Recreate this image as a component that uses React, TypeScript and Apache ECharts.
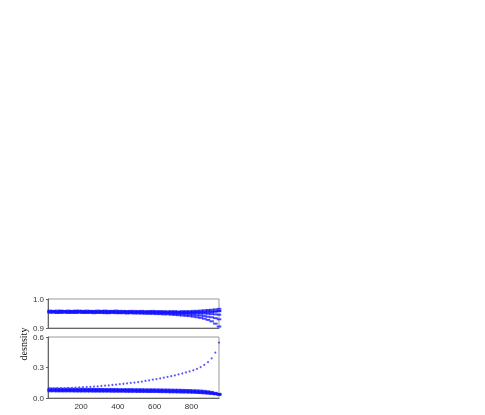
import React, { useEffect, useRef } from "react";
import * as echarts from "echarts";

const X = [30, 50, 70, 90, 110, 130, 150, 170, 190, 210, 230, 250, 270, 290, 310, 330, 350, 370, 390, 410, 430, 450, 470, 490, 510, 530, 550, 570, 590, 610, 630, 650, 670, 690, 710, 730, 750, 770, 790, 810, 830, 850, 870, 890, 910, 930, 950];

const topA = [0.960, 0.959, 0.960, 0.960, 0.959, 0.960, 0.959, 0.960, 0.960, 0.959, 0.960, 0.959, 0.959, 0.960, 0.959, 0.960, 0.959, 0.959, 0.960, 0.959, 0.959, 0.958, 0.959, 0.959, 0.958, 0.959, 0.958, 0.958, 0.959, 0.958, 0.958, 0.958, 0.957, 0.958, 0.958, 0.957, 0.958, 0.958, 0.958, 0.959, 0.959, 0.960, 0.961, 0.962, 0.963, 0.964, 0.966];
const topB = [0.958, 0.958, 0.957, 0.958, 0.958, 0.957, 0.958, 0.958, 0.957, 0.958, 0.957, 0.958, 0.957, 0.957, 0.958, 0.957, 0.957, 0.958, 0.957, 0.957, 0.956, 0.957, 0.957, 0.956, 0.957, 0.956, 0.956, 0.957, 0.956, 0.956, 0.956, 0.955, 0.956, 0.955, 0.955, 0.955, 0.955, 0.955, 0.955, 0.955, 0.956, 0.956, 0.956, 0.957, 0.957, 0.958, 0.959];
const topC = [0.956, 0.956, 0.955, 0.956, 0.955, 0.956, 0.955, 0.956, 0.956, 0.955, 0.955, 0.956, 0.955, 0.955, 0.955, 0.956, 0.955, 0.955, 0.955, 0.954, 0.955, 0.955, 0.954, 0.955, 0.954, 0.954, 0.954, 0.954, 0.953, 0.954, 0.953, 0.953, 0.953, 0.953, 0.952, 0.952, 0.952, 0.952, 0.951, 0.951, 0.951, 0.950, 0.950, 0.949, 0.948, 0.947, 0.946];
const topD = [0.954, 0.954, 0.953, 0.954, 0.954, 0.953, 0.954, 0.953, 0.954, 0.953, 0.953, 0.954, 0.953, 0.953, 0.953, 0.953, 0.952, 0.953, 0.953, 0.952, 0.953, 0.952, 0.952, 0.952, 0.952, 0.951, 0.952, 0.951, 0.951, 0.951, 0.950, 0.950, 0.950, 0.949, 0.949, 0.948, 0.948, 0.947, 0.946, 0.945, 0.944, 0.943, 0.941, 0.939, 0.937, 0.934, 0.930];
const topE = [0.953, 0.953, 0.952, 0.952, 0.953, 0.952, 0.952, 0.952, 0.953, 0.952, 0.952, 0.952, 0.951, 0.952, 0.952, 0.951, 0.951, 0.952, 0.951, 0.951, 0.951, 0.950, 0.951, 0.950, 0.950, 0.950, 0.949, 0.949, 0.949, 0.948, 0.948, 0.947, 0.947, 0.946, 0.945, 0.944, 0.943, 0.942, 0.941, 0.939, 0.937, 0.935, 0.932, 0.928, 0.923, 0.915, 0.905];
const topF = [0.957, 0.957, 0.956, 0.957, 0.957, 0.956, 0.957, 0.957, 0.956, 0.957, 0.956, 0.957, 0.956, 0.956, 0.957, 0.956, 0.956, 0.956, 0.956, 0.955, 0.956, 0.956, 0.955, 0.955, 0.955, 0.955, 0.955, 0.955, 0.954, 0.954, 0.954, 0.954, 0.953, 0.953, 0.953, 0.953, 0.952, 0.952, 0.952, 0.952, 0.953, 0.953, 0.954, 0.954, 0.955, 0.956, 0.958];

const rising = [0.094, 0.095, 0.096, 0.097, 0.098, 0.099, 0.100, 0.102, 0.104, 0.106, 0.108, 0.110, 0.112, 0.115, 0.118, 0.121, 0.124, 0.128, 0.132, 0.136, 0.140, 0.144, 0.148, 0.152, 0.157, 0.162, 0.168, 0.174, 0.180, 0.186, 0.193, 0.200, 0.207, 0.215, 0.223, 0.232, 0.241, 0.251, 0.261, 0.273, 0.287, 0.304, 0.326, 0.353, 0.390, 0.447, 0.545];
const lowA = [0.092, 0.092, 0.091, 0.091, 0.091, 0.091, 0.090, 0.090, 0.090, 0.090, 0.089, 0.089, 0.089, 0.089, 0.089, 0.088, 0.088, 0.088, 0.088, 0.087, 0.087, 0.087, 0.087, 0.086, 0.086, 0.086, 0.085, 0.085, 0.085, 0.084, 0.084, 0.083, 0.083, 0.082, 0.081, 0.081, 0.080, 0.079, 0.078, 0.076, 0.075, 0.073, 0.070, 0.066, 0.060, 0.051, 0.041];
const lowB = [0.084, 0.084, 0.083, 0.083, 0.083, 0.083, 0.082, 0.082, 0.082, 0.082, 0.081, 0.081, 0.081, 0.081, 0.081, 0.080, 0.080, 0.080, 0.080, 0.079, 0.079, 0.079, 0.079, 0.078, 0.078, 0.078, 0.077, 0.077, 0.076, 0.076, 0.075, 0.075, 0.074, 0.073, 0.073, 0.072, 0.071, 0.070, 0.069, 0.067, 0.066, 0.064, 0.061, 0.058, 0.053, 0.046, 0.038];
const lowC = [0.078, 0.078, 0.077, 0.077, 0.077, 0.077, 0.077, 0.076, 0.076, 0.076, 0.076, 0.076, 0.075, 0.075, 0.075, 0.075, 0.075, 0.074, 0.074, 0.074, 0.074, 0.073, 0.073, 0.073, 0.072, 0.072, 0.072, 0.071, 0.071, 0.070, 0.070, 0.069, 0.068, 0.068, 0.067, 0.066, 0.065, 0.064, 0.063, 0.062, 0.060, 0.058, 0.056, 0.053, 0.048, 0.042, 0.036];
const lowD = [0.072, 0.072, 0.071, 0.071, 0.071, 0.071, 0.071, 0.070, 0.070, 0.070, 0.070, 0.070, 0.069, 0.069, 0.069, 0.069, 0.069, 0.068, 0.068, 0.068, 0.068, 0.067, 0.067, 0.067, 0.066, 0.066, 0.066, 0.065, 0.065, 0.065, 0.064, 0.064, 0.063, 0.062, 0.062, 0.061, 0.060, 0.059, 0.058, 0.057, 0.055, 0.053, 0.051, 0.048, 0.044, 0.039, 0.034];
const lowE = [0.066, 0.066, 0.065, 0.065, 0.065, 0.065, 0.065, 0.064, 0.064, 0.064, 0.064, 0.064, 0.063, 0.063, 0.063, 0.063, 0.063, 0.062, 0.062, 0.062, 0.062, 0.061, 0.061, 0.061, 0.060, 0.060, 0.060, 0.059, 0.059, 0.059, 0.058, 0.058, 0.057, 0.056, 0.056, 0.055, 0.054, 0.054, 0.053, 0.052, 0.050, 0.048, 0.046, 0.043, 0.040, 0.036, 0.031];

const topSeries = [topA, topB, topC, topD, topE, topF];
const lowSeries = [lowA, lowB, lowC, lowD, lowE];

const topTicks = [0.9, 1.0];
const bottomTicks = [0.0, 0.3, 0.6];
const xTicks = [200, 400, 600, 800];
const yLabel = "desnsity";

export default function App() {
  const ref = useRef<HTMLDivElement>(null);
  useEffect(() => {
    if (!ref.current) return;
    const chart = echarts.init(ref.current, null, { renderer: "svg" });
    const pair = (ys: number[]) => X.map((x, i) => [x, ys[i]]);
    const axisLabel = { fontSize: 8, color: "#333", fontFamily: "Liberation Sans", margin: 4 };
    const series: any[] = [];
    topSeries.forEach((s) =>
      series.push({
        type: "scatter",
        xAxisIndex: 0,
        yAxisIndex: 0,
        data: pair(s),
        symbol: "rect",
        symbolSize: [4.5, 2],
        itemStyle: { color: "#1515ff", opacity: 0.78 },
      })
    );
    lowSeries.forEach((s) =>
      series.push({
        type: "scatter",
        xAxisIndex: 1,
        yAxisIndex: 1,
        data: pair(s),
        symbol: "rect",
        symbolSize: [4.5, 2],
        itemStyle: { color: "#1515ff", opacity: 0.78 },
      })
    );
    series.push({
      type: "scatter",
      xAxisIndex: 1,
      yAxisIndex: 1,
      data: pair(rising),
      symbolSize: 2,
      itemStyle: { color: "#3a3aff", opacity: 0.85 },
    });
    const xAxisBase = {
      type: "value",
      min: 20,
      max: 950,
      interval: 200,
      axisLine: { show: true, onZero: false, lineStyle: { color: "#666", width: 1 } },
      axisTick: { show: false },
      splitLine: { show: false },
    };
    chart.setOption({
      animation: false,
      grid: [
        { left: 48, top: 299, width: 171, height: 29, show: true, borderColor: "#999", borderWidth: 1 },
        { left: 48, top: 337, width: 171, height: 61, show: true, borderColor: "#999", borderWidth: 1 },
      ],
      xAxis: [
        { ...xAxisBase, gridIndex: 0, axisLabel: { show: false } },
        {
          ...xAxisBase,
          gridIndex: 1,
          axisLabel: {
            ...axisLabel,
            formatter: (v: number) => (xTicks.includes(v) ? String(v) : ""),
            customValues: xTicks,
          },
        },
      ],
      yAxis: [
        {
          type: "value",
          gridIndex: 0,
          min: topTicks[0],
          max: topTicks[1],
          interval: 0.1,
          axisLine: { show: true, lineStyle: { color: "#666" } },
          axisTick: { show: true, length: 2, lineStyle: { color: "#666" } },
          splitLine: { show: false },
          axisLabel: { ...axisLabel, formatter: (v: number) => v.toFixed(1) },
        },
        {
          type: "value",
          gridIndex: 1,
          min: bottomTicks[0],
          max: bottomTicks[2],
          interval: 0.3,
          axisLine: { show: true, lineStyle: { color: "#666" } },
          axisTick: { show: true, length: 2, lineStyle: { color: "#666" } },
          splitLine: { show: false },
          axisLabel: { ...axisLabel, formatter: (v: number) => v.toFixed(1) },
        },
      ],
      graphic: [
        {
          type: "text",
          x: 23,
          y: 344,
          rotation: Math.PI / 2,
          style: {
            text: yLabel,
            fontFamily: "Liberation Serif",
            fontSize: 10,
            fill: "#111",
            align: "center",
            verticalAlign: "middle",
          },
        },
      ],
      series,
    });
    return () => chart.dispose();
  }, []);
  return <div ref={ref} style={{ position: "fixed", left: 0, top: 0, width: 485, height: 415 }} />;
}
